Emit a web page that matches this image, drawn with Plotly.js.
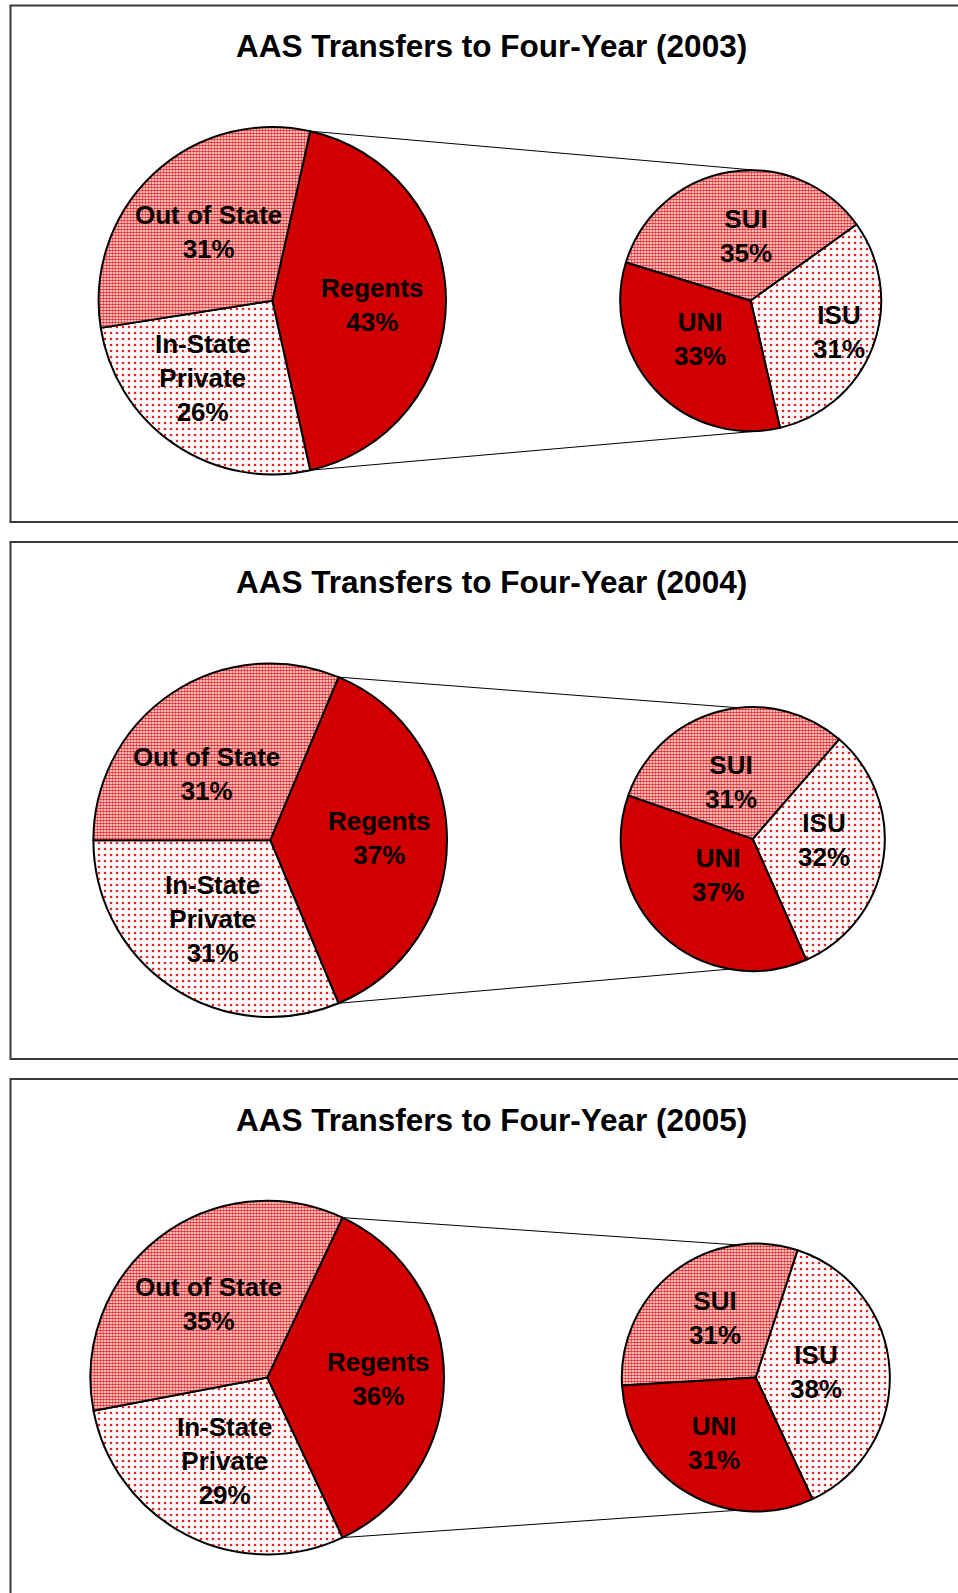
<!DOCTYPE html>
<html>
<head>
<meta charset="utf-8">
<script src="https://cdn.plot.ly/plotly-3.0.1.min.js"></script>
<style>html,body{margin:0;padding:0;background:#fff;}#chart{width:958px;height:1593px;}</style>
</head>
<body>
<div id="chart"></div>
<script>
// ---------------- data ----------------
const years = ['2003', '2004', '2005'];
const mainLabels = ['Regents', 'In-State Private', 'Out of State'];
const mainText = ['Regents', 'In-State<br>Private', 'Out of State'];
const main2003 = [43, 26, 31];
const main2004 = [37, 31, 31];
const main2005 = [36, 29, 35];
const subLabels = ['SUI', 'ISU', 'UNI'];
const sub2003 = [35, 31, 33];
const sub2004 = [31, 32, 37];
const sub2005 = [31, 38, 31];
const titlePrefix = 'AAS Transfers to Four-Year';

// ---------------- layout config (pixels / degrees) ----------------
const W = 958, H = 1593;
const panels = [
  {big: {cx: 272.3, cy: 300.7, r: 173.7}, small: {cx: 750.7, cy: 300.7, r: 130.5}, titleY: 46, top: 5.5, bottom: 522,
   smallRot: 287, conn: [7, 174],
   bigLab: [0.58, 0.60, 0.54], bigOff: [2.5, 7.8, 0.6],
   smallLab: [0.50, 0.72, 0.49], smallOff: [5.4, -1, 5.8]},
  {big: {cx: 270.2, cy: 840.2, r: 176.8}, small: {cx: 752.8, cy: 839.1, r: 132}, titleY: 582, top: 542, bottom: 1059,
   smallRot: 289.3, conn: [-6, 190],
   bigLab: [0.62, 0.555, 0.52], bigOff: [-1.1, 2.6, -10.4],
   smallLab: [0.46, 0.54, 0.375], smallOff: [-5.7, -7.7, 1.5]},
  {big: {cx: 267.2, cy: 1377.6, r: 176.8}, small: {cx: 755.8, cy: 1377.6, r: 134}, titleY: 1120, top: 1079, bottom: 1620,
   smallRot: 266.6, conn: [16, 188],
   bigLab: [0.63, 0.53, 0.53], bigOff: [0.5, 0.1, -0.6],
   smallLab: [0.54, 0.45, 0.576], smallOff: [3.5, -2.4, 1.8]}
];
const mainSeries = [main2003, main2004, main2005];
const subSeries = [sub2003, sub2004, sub2005];

const RED = '#d10000';
const CHECK = '#e82c2c';
const DOT = '#f01e1e';
const FONT = 'Liberation Sans, Arial, Helvetica, sans-serif';

const px = x => x / W;
const py = y => 1 - y / H;
const rad = d => d * Math.PI / 180;
function pt(c, ang, f) {
  return [c.cx + f * c.r * Math.sin(rad(ang)), c.cy - f * c.r * Math.cos(rad(ang))];
}
function domainOf(c) {
  return {x: [px(c.cx - c.r), px(c.cx + c.r)], y: [py(c.cy + c.r), py(c.cy - c.r)]};
}

const traces = [];
const annotations = [];
const shapes = [];

panels.forEach((p, i) => {
  const mv = mainSeries[i], sv = subSeries[i];
  const mTot = mv.reduce((a, b) => a + b, 0);
  const sTot = sv.reduce((a, b) => a + b, 0);
  const bigRot = 90 - 180 * mv[0] / mTot;

  traces.push({
    type: 'pie', labels: mainLabels, values: mv, sort: false, direction: 'clockwise',
    rotation: bigRot, textinfo: 'none', hoverinfo: 'label+value', showlegend: false,
    domain: domainOf(p.big),
    marker: {
      colors: [RED, '#ffffff', '#ffffff'],
      line: {color: '#000000', width: 2},
      pattern: {shape: ['', '.', '.'], fgcolor: [RED, DOT, CHECK], bgcolor: [RED, '#ffffff', '#ffffff'],
                size: [6, 6, 3], solidity: [0.2, 0.15, 0.65], fillmode: 'replace'}
    }
  });
  traces.push({
    type: 'pie', labels: subLabels, values: sv, sort: false, direction: 'clockwise',
    rotation: p.smallRot, textinfo: 'none', hoverinfo: 'label+value', showlegend: false,
    domain: domainOf(p.small),
    marker: {
      colors: ['#ffffff', '#ffffff', RED],
      line: {color: '#000000', width: 2},
      pattern: {shape: ['.', '.', ''], fgcolor: [CHECK, DOT, RED], bgcolor: ['#ffffff', '#ffffff', RED],
                size: [3, 6, 6], solidity: [0.65, 0.15, 0.2], fillmode: 'replace'}
    }
  });

  // title
  annotations.push({
    text: titlePrefix + ' (' + years[i] + ')', xref: 'paper', yref: 'paper',
    x: px(491), y: py(p.titleY), xanchor: 'center', yanchor: 'middle', showarrow: false,
    font: {family: FONT, size: 31.5, color: '#000', weight: 'bold'}
  });

  // slice labels (big)
  let a = bigRot;
  mv.forEach((v, k) => {
    const span = 360 * v / mTot;
    const q = pt(p.big, a + span / 2 + p.bigOff[k], p.bigLab[k]);
    annotations.push({
      text: mainText[k] + '<br>' + v + '%', xref: 'paper', yref: 'paper',
      x: px(q[0]), y: py(q[1]), xanchor: 'center', yanchor: 'middle', showarrow: false,
      font: {family: FONT, size: 26, color: '#000', weight: 'bold'}
    });
    a += span;
  });
  // slice labels (small)
  a = p.smallRot;
  sv.forEach((v, k) => {
    const span = 360 * v / sTot;
    const q = pt(p.small, a + span / 2 + p.smallOff[k], p.smallLab[k]);
    annotations.push({
      text: subLabels[k] + '<br>' + v + '%', xref: 'paper', yref: 'paper',
      x: px(q[0]), y: py(q[1]), xanchor: 'center', yanchor: 'middle', showarrow: false,
      font: {family: FONT, size: 26, color: '#000', weight: 'bold'}
    });
    a += span;
  });

  // connector lines
  const b1 = pt(p.big, bigRot, 1), b2 = pt(p.big, bigRot + 360 * mv[0] / mTot, 1);
  const s1 = pt(p.small, p.conn[0], 1), s2 = pt(p.small, p.conn[1], 1);
  [[b1, s1], [b2, s2]].forEach(([u, w]) => shapes.push({
    type: 'line', xref: 'paper', yref: 'paper', x0: px(u[0]), y0: py(u[1]), x1: px(w[0]), y1: py(w[1]),
    line: {color: '#000', width: 1}, layer: 'below'
  }));

  // panel frame
  shapes.push({
    type: 'rect', xref: 'paper', yref: 'paper', x0: px(10.5), x1: px(975), y0: py(p.bottom), y1: py(p.top),
    line: {color: '#3a3a3a', width: 2}, fillcolor: 'rgba(0,0,0,0)', layer: 'below'
  });
});

const layout = {
  width: W, height: H, margin: {l: 0, r: 0, t: 0, b: 0},
  paper_bgcolor: '#ffffff', plot_bgcolor: '#ffffff',
  showlegend: false, annotations: annotations, shapes: shapes,
  font: {family: FONT}
};
Plotly.newPlot('chart', traces, layout, {staticPlot: true, displayModeBar: false});
</script>
</body>
</html>
